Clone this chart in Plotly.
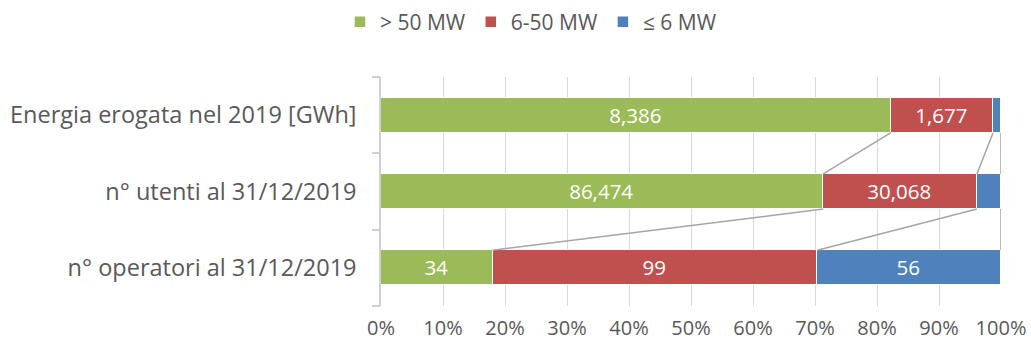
import plotly.graph_objects as go

categories = ["Energia erogata nel 2019 [GWh]", "n° utenti al 31/12/2019", "n° operatori al 31/12/2019"]
series_names = ["> 50 MW", "6-50 MW", "≤ 6 MW"]
big = [8386, 86474, 34]
mid = [1677, 30068, 99]
small = [131, 4700, 56]
colors = ["#9BBB59", "#C0504D", "#4F81BD"]
x_ticks = [0, 10, 20, 30, 40, 50, 60, 70, 80, 90, 100]
x_tick_labels = [f"{v}%" for v in x_ticks]

FONT = "Open Sans"
TXT = "#595959"
BAR_W = 0.46

series = [big, mid, small]
totals = [sum(s[i] for s in series) for i in range(len(categories))]
shares = [[100.0 * s[i] / totals[i] for i in range(len(categories))] for s in series]
ypos = list(range(len(categories)))

fig = go.Figure()
for name, vals, sh, col in zip(series_names, series, shares, colors):
    labels = [f"{v:,}" if p >= 5 else "" for v, p in zip(vals, sh)]
    fig.add_trace(go.Bar(
        y=ypos, x=sh, orientation="h", name=name, width=BAR_W,
        marker=dict(color=col, line=dict(color="white", width=1.5)),
        text=labels, textposition="inside", insidetextanchor="middle",
        textangle=0, constraintext="none",
        textfont=dict(color="white", size=20.5, family=FONT),
        hoverinfo="skip",
    ))

# series lines between adjacent bars
for k in range(len(series)):
    cum = [sum(shares[j][i] for j in range(k + 1)) for i in range(len(categories))]
    for i in range(len(categories) - 1):
        fig.add_trace(go.Scatter(
            x=[cum[i], cum[i + 1]],
            y=[ypos[i] + BAR_W / 2, ypos[i + 1] - BAR_W / 2],
            mode="lines", line=dict(color="#A5A5A5", width=1.5),
            showlegend=False, hoverinfo="skip",
        ))

# invisible trace on second y axis for boundary ticks
fig.add_trace(go.Scatter(x=[None], y=[None], yaxis="y2", showlegend=False, hoverinfo="skip"))

fig.update_layout(
    width=1031, height=345,
    margin=dict(l=381, r=30, t=77, b=39, autoexpand=False),
    paper_bgcolor="white", plot_bgcolor="white",
    barmode="stack", bargap=0,
    font=dict(family=FONT, color=TXT, size=20),
    showlegend=True,
    legend=dict(orientation="h", xref="container", yref="container",
                x=0.515, xanchor="center", y=1 - 22 / 345, yanchor="middle",
                font=dict(size=21, color=TXT, family=FONT),
                itemwidth=30, tracegroupgap=0, traceorder="normal"),
    xaxis=dict(range=[0, 100], tickvals=x_ticks, ticktext=x_tick_labels,
               showgrid=True, gridcolor="#D9D9D9", gridwidth=1,
               zeroline=False, showline=False, ticks="", automargin=False,
               ticklabelstandoff=8,
               tickfont=dict(size=20, color=TXT, family=FONT)),
    yaxis=dict(range=[len(categories) - 0.5, -0.5], tickvals=ypos, ticktext=categories,
               showgrid=False, zeroline=False, showline=True, linecolor="#D0D0D0", linewidth=1.5,
               ticks="", ticklabelstandoff=18, automargin=False,
               tickfont=dict(size=23.5, color=TXT, family=FONT)),
    yaxis2=dict(overlaying="y", side="left", range=[len(categories) - 0.5, -0.5],
                tickvals=[i - 0.5 for i in range(len(categories) + 1)], showticklabels=False,
                ticks="outside", ticklen=8, tickcolor="#D0D0D0", tickwidth=1.5,
                showgrid=False, zeroline=False, showline=False, automargin=False),
)

fig.write_html("out.html")
